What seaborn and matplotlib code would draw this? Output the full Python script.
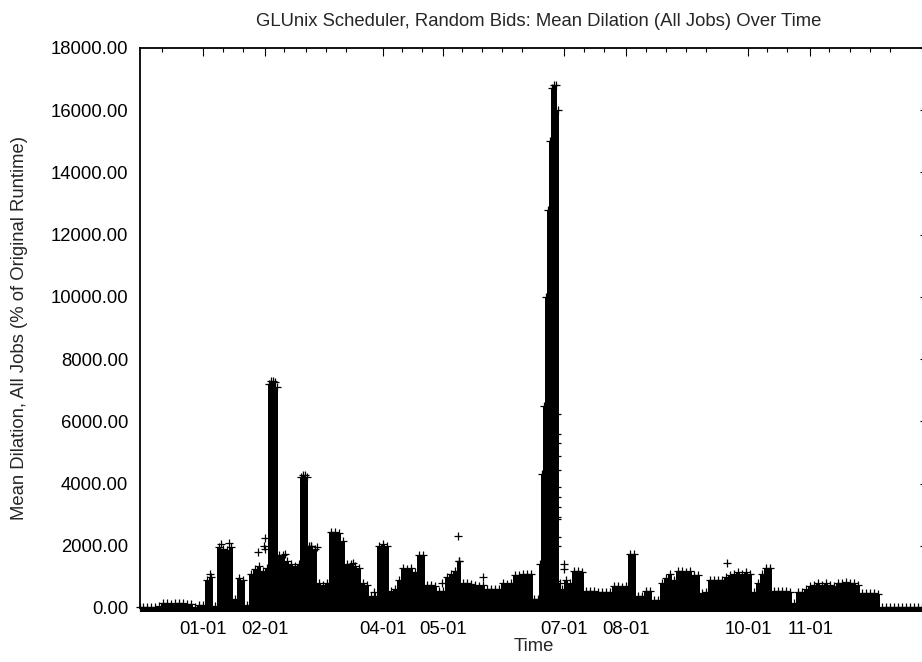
import matplotlib
matplotlib.use("Agg")
import matplotlib.pyplot as plt
import pandas as pd
import seaborn as sns

# ---------------- data ----------------
# day offset from 01-01 and the upper envelope of the dilation values (%)
day = [-31.5, -30, -28, -26, -24, -22, -20, -18, -16, -14, -12, -10, -8, -6, -4, -2,
       0, 2, 4, 6, 8, 10, 12, 14, 16, 18, 20, 22, 24, 26, 28, 30, 32,
       33, 34, 35, 36, 37, 38, 40, 42, 44, 46, 48, 49, 50, 51, 52, 53,
       54, 56, 58, 60, 62, 64, 66, 68, 70, 72, 74, 76, 78, 80, 82, 84, 86, 88, 90, 92, 94, 96, 98,
       100, 102, 104, 106, 108, 110, 112, 114, 116, 118, 120, 122, 124, 126, 128, 130, 132, 134, 136, 138,
       140, 142, 144, 146, 148, 150, 152, 154, 156, 158, 160, 162, 164, 166, 168,
       169, 170, 171, 172, 173, 174, 175, 176, 177, 178, 179,
       180, 182, 184, 186, 188, 190, 192, 194, 196, 198, 200, 202, 204, 206, 208, 210, 212, 214, 216, 218,
       220, 222, 224, 226, 228, 230, 232, 234, 236, 238, 240, 242, 244, 246, 248, 250, 252, 254, 256, 258,
       260, 262, 264, 266, 268, 270, 272, 274, 276, 278, 280, 282, 284, 286, 288, 290, 292, 294, 296, 298,
       300, 302, 304, 306, 308, 310, 312, 314, 316, 318, 320, 322, 324, 326, 328, 330, 332, 334, 336, 338,
       340, 342, 344, 346, 348, 350, 352, 354, 356, 358, 360, 362, 363]

peak = [40, 40, 30, 40, 40, 50, 150, 160, 140, 170, 150, 160, 140, 120, 40, 100,
        110, 900, 1000, 80, 1950, 1900, 1850, 1950, 300, 950, 900, 100, 1100, 1250, 1350, 1200, 1300,
        7200, 7300, 7300, 7250, 7100, 1700, 1700, 1500, 1400, 1350, 1400, 4200, 4260, 4260, 4200, 2000,
        2000, 1900, 800, 750, 800, 2450, 2450, 2400, 2150, 1400, 1400, 1350, 1300, 800, 750, 370, 380,
        2000, 2050, 2000, 560, 600, 900,
        1280, 1250, 1280, 1170, 1700, 1700, 730, 730, 700, 560, 560, 1000, 1100, 1200, 1500, 800, 800,
        780, 730, 720,
        730, 620, 600, 620, 620, 800, 780, 800, 1050, 1050, 1100, 1100, 1100, 300, 300,
        1400, 4300, 6500, 10000, 12800, 15000, 16700, 16800, 16800, 16000, 800,
        600, 900, 800, 1200, 1200, 1150, 560, 560, 550, 530, 500, 530, 530, 700, 700, 680, 700, 1750,
        1750, 370,
        400, 560, 560, 250, 250, 800, 950, 1100, 900, 1200, 1200, 1150, 1200, 1050, 1050, 470, 500,
        900, 900, 900,
        900, 1000, 1050, 1100, 1170, 1100, 1170, 1100, 500, 800, 1100, 1280, 1280, 560, 560, 560, 560,
        500, 150, 530,
        530, 620, 700, 750, 800, 750, 800, 750, 700, 800, 800, 850, 800, 800, 750, 470, 470, 470, 470,
        450,
        40, 40, 40, 40, 40, 40, 40, 40, 40, 40, 40, 40, 40]

# isolated points standing above the dense mass
out_day = [3.5, 9, 13, 27.5, 30.5, 31, 31, 41, 54, 57, 75, 85.5, 119.5, 127.5, 128, 140,
           177.3, 177.3, 177.3, 177.3, 177.3, 177.3, 177.3, 177.3, 177.3,
           177.4, 177.4, 177.4, 181, 181, 177, 262.5]
out_val = [1100, 2050, 2100, 1800, 2000, 2250, 1900, 1750, 2000, 1950, 1450, 530, 800, 2300, 1500, 1000,
           6250, 5600, 5290, 4870, 4420, 3900, 3580, 3260, 2940,
           2870, 2290, 2000, 1430, 1260, 880, 1450]

tick_days = [0, 31, 90, 120, 181, 212, 273, 304]
tick_labels = ["01-01", "02-01", "04-01", "05-01", "07-01", "08-01", "10-01", "11-01"]
minor_days = [-20.5, 10, 20, 40.8, 51.6, 61.6, 71.6, 99.6, 109.7, 129.7, 139.7, 149.7, 159.7,
              190.8, 200.8, 221.8, 231.8, 241.9, 251.9, 282.4, 292.4, 313.5, 324, 334, 344]
y_ticks = [0, 2000, 4000, 6000, 8000, 10000, 12000, 14000, 16000, 18000]

assert len(day) == len(peak)

# ---------------- figure ----------------
sns.set_style("white")
plt.rcParams['font.family'] = ['Liberation Sans', 'DejaVu Sans']
FS = 13.3

W, H = 922, 662
fig = plt.figure(figsize=(W / 100, H / 100), dpi=100)
L, R, T, B = 140, 928, 48, 608
ax = fig.add_axes([L / W, (H - B) / H, (R - L) / W, (B - T) / H])
ax.set_xlim(-31.5, 363)
ax.set_ylim(0, 18000)

half = 3.5 * 18000 / (B - T)   # half a marker, in data units
ax.fill_between(day, peak, -half, step='mid', color='black', lw=0, clip_on=False, zorder=2)

top_df = pd.DataFrame({'day': day, 'val': peak})
out_df = pd.DataFrame({'day': out_day, 'val': out_val})
for d in (top_df, out_df):
    sns.scatterplot(data=d, x='day', y='val', marker='+', s=36, color='black',
                    linewidth=0.9, ax=ax, clip_on=False, legend=False, zorder=3)

ax.set_xticks(tick_days)
ax.set_xticklabels(tick_labels)
ax.set_xticks(minor_days, minor=True)
ax.set_yticks(y_ticks)
ax.set_yticklabels([f"{v:.2f}" for v in y_ticks])
ax.tick_params(which='both', direction='in', top=True, right=True, color='black',
               width=0.8, labelsize=FS, labelcolor='black')
ax.tick_params(which='major', length=5.8)
ax.tick_params(which='minor', length=2.9)
ax.tick_params(axis='x', which='major', pad=9.5)
ax.tick_params(axis='y', which='major', pad=8.5)
for s in ax.spines.values():
    s.set_visible(True)
    s.set_color('black')
    s.set_linewidth(1.3)

ax.set_xlabel("Time", fontsize=FS)
ax.xaxis.set_label_coords(0.5, (B - 638) / (B - T))
ax.set_ylabel("Mean Dilation, All Jobs (% of Original Runtime)", fontsize=FS)
ax.yaxis.set_label_coords((28 - L) / (R - L), 0.5)
fig.text(539 / W, 1 - 22 / H, "GLUnix Scheduler, Random Bids: Mean Dilation (All Jobs) Over Time",
         fontsize=FS, ha='center', va='center')

fig.savefig("out.png", dpi=100)
